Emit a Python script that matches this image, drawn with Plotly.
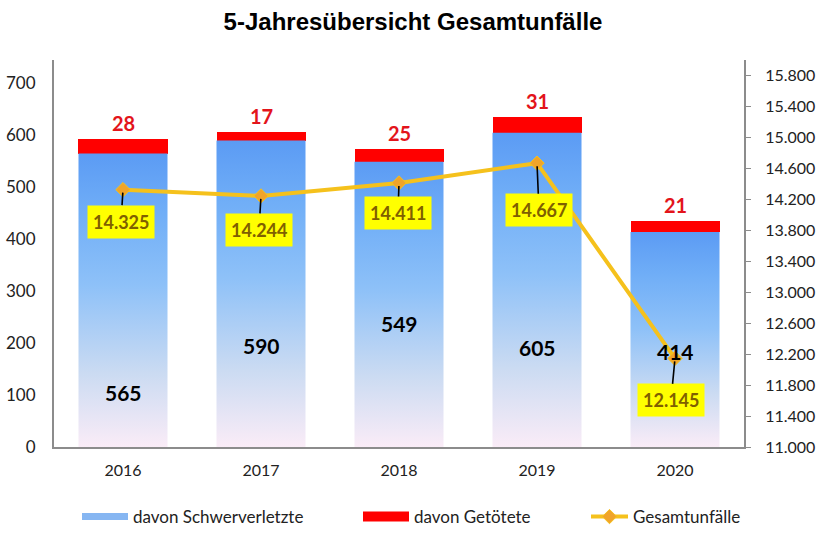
import plotly.graph_objects as go

# ---- data ----
years = ["2016", "2017", "2018", "2019", "2020"]
schwerverletzte = [565, 590, 549, 605, 414]
getoetete = [28, 17, 25, 31, 21]
gesamtunfaelle = [14325, 14244, 14411, 14667, 12145]

# ---- label placement (styling, not data) ----
schwer_label_y = [104, 196, 238, 192, 183]   # left-axis units
box_dx = [-2, -2, -1, 2, -4]                  # px offsets of yellow boxes
box_dy = [32, 34, 30, 47, 42]

BAR_W = 0.645
idx = list(range(len(years)))
GRAY = "#8C8C8C"
TICK_FONT = "Lato, Carlito, Calibri, sans-serif"
W, H = 826, 540
L, T = 54, 60
PW, PH = 690, 387
R, B = W - L - PW, H - T - PH


def de(n):
    return f"{n:,}".replace(",", ".")


def px2paper(px):
    return (px - L) / PW


fig = go.Figure()

fig.add_trace(go.Bar(
    x=idx, y=schwerverletzte, width=BAR_W, name="davon Schwerverletzte",
    marker=dict(color="rgba(141,188,242,0)", line=dict(width=0)), hoverinfo="skip",
    showlegend=False))
fig.add_trace(go.Bar(
    x=idx, y=getoetete, width=BAR_W, name="davon Getötete",
    marker=dict(color="#FF0000", line=dict(width=0)), hoverinfo="skip",
    showlegend=False))

# gradient fill for the Schwerverletzte bars (same data, same axes)
for i, v in zip(idx, schwerverletzte):
    fig.add_trace(go.Scatter(
        x=[i - BAR_W / 2, i + BAR_W / 2, i + BAR_W / 2, i - BAR_W / 2, i - BAR_W / 2],
        y=[0, 0, v, v, 0],
        mode="lines", fill="toself", line=dict(width=0),
        fillgradient=dict(type="vertical", colorscale=[
            [0.0, "#FAECF7"], [0.25, "#CBDBF2"], [0.55, "#8EC1F8"],
            [0.8, "#70AEF7"], [1.0, "#5B9BF4"]]),
        showlegend=False, hoverinfo="skip"))

fig.add_trace(go.Scatter(
    x=idx, y=gesamtunfaelle, yaxis="y2", name="Gesamtunfälle",
    mode="lines+markers",
    line=dict(color="#F5C11C", width=4),
    marker=dict(symbol="diamond", size=11, color="#F0A42A",
                line=dict(color="#F5C11C", width=1)),
    hoverinfo="skip", legend="legend3"))

# legend entries for the bar series (wide swatches like the original)
fig.add_trace(go.Scatter(x=[None], y=[None], mode="lines", name="davon Schwerverletzte",
                         line=dict(color="#86B6F2", width=7), legend="legend"))
fig.add_trace(go.Scatter(x=[None], y=[None], mode="lines", name="davon Getötete",
                         line=dict(color="#FF0000", width=10), legend="legend2"))

annotations = []
for i, s, g, ly in zip(idx, schwerverletzte, getoetete, schwer_label_y):
    annotations.append(dict(
        x=i, y=s + g, xref="x", yref="y", text=str(g), showarrow=False,
        yanchor="bottom", yshift=2,
        font=dict(family="Lato, sans-serif", size=20, color="#E3141B", weight="bold")))
    annotations.append(dict(
        x=i, y=ly, xref="x", yref="y", text=str(s), showarrow=False,
        font=dict(family="Lato, sans-serif", size=21, color="#000000", weight="bold")))

for i, t, dx, dy in zip(idx, gesamtunfaelle, box_dx, box_dy):
    annotations.append(dict(
        x=i, y=t, xref="x", yref="y2", text=de(t), showarrow=True,
        arrowhead=0, arrowwidth=1.6, arrowcolor="#000000", ax=dx, ay=dy,
        bgcolor="#FFFF00", borderpad=5, standoff=3,
        font=dict(family="Lato, sans-serif", size=18, color="#7F6000", weight="bold")))

leg_common = dict(orientation="h", yref="container", y=1 - 517 / H,
                  yanchor="middle", xanchor="left", bgcolor="rgba(0,0,0,0)",
                  font=dict(family=TICK_FONT, size=17, color="#222"))

fig.update_layout(
    width=W, height=H,
    margin=dict(l=L, r=R, t=T, b=B, autoexpand=False),
    paper_bgcolor="white", plot_bgcolor="white",
    barmode="stack", separators=",.",
    title=dict(text="<b>5-Jahresübersicht Gesamtunfälle</b>", x=0.5, xanchor="center",
               xref="container", y=1 - 22 / H, yanchor="middle",
               font=dict(family="Liberation Sans, Arial, sans-serif", size=24, color="#000")),
    xaxis=dict(range=[-0.5, 4.5], tickvals=idx, ticktext=years, automargin=False,
               showline=True, linecolor=GRAY, linewidth=2, showgrid=False,
               zeroline=False, ticks="", ticklabelstandoff=8,
               tickfont=dict(family=TICK_FONT, size=16, color="#222")),
    yaxis=dict(range=[0, 745], tick0=0, dtick=100, showline=True, linecolor=GRAY,
               linewidth=2, showgrid=False, zeroline=False, ticks="", automargin=False,
               ticklabelstandoff=13,
               tickfont=dict(family=TICK_FONT, size=17, color="#222")),
    yaxis2=dict(overlaying="y", side="right", range=[11000, 16000], tick0=11000,
                dtick=400, tickformat=",d", showline=True, linecolor=GRAY,
                linewidth=2, showgrid=False, zeroline=False, ticks="outside",
                ticklen=5, tickcolor=GRAY, tickwidth=1, ticklabelstandoff=11,
                automargin=False,
                tickfont=dict(family=TICK_FONT, size=16, color="#222")),
    legend=dict(x=px2paper(77), itemwidth=46, **leg_common),
    legend2=dict(x=px2paper(358), itemwidth=46, **leg_common),
    legend3=dict(x=px2paper(586), itemwidth=37, **leg_common),
    annotations=annotations,
    showlegend=True,
)

fig.write_html("out.html", config={"displayModeBar": False},
               post_script="document.body.style.margin='0';")
